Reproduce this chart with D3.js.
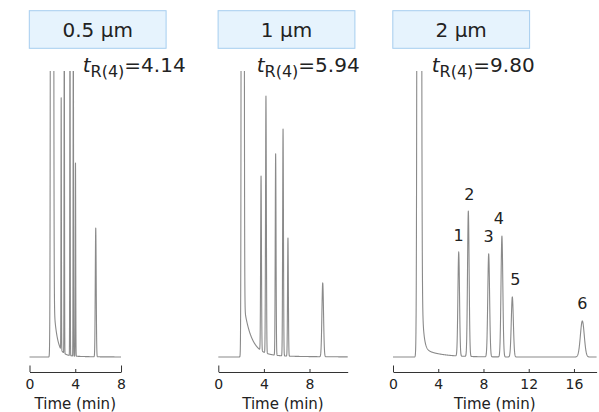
<!DOCTYPE html>
<html>
<head>
<meta charset="utf-8">
<script src="https://cdn.jsdelivr.net/npm/d3@7.9.0/dist/d3.min.js"></script>
<style>
  html, body { margin: 0; padding: 0; background: #fff; }
  svg { display: block; font-family: "DejaVu Sans", Verdana, sans-serif; }
</style>
</head>
<body>
<svg id="chart" width="599" height="412"></svg>
<script>
// Panel titles and retention time of peak 4
const panelTitles = ['0.5 µm', '1 µm', '2 µm'];
const tR4Values = ['4.14', '5.94', '9.80'];

// Time axis (min)
const timeMax = [8, 11.35, 18];
const tickValues = [[0, 4, 8], [0, 4, 8], [0, 4, 8, 12, 16]];

// Solvent / void peak (clipped) and its tail
const solventTimes = [1.97, 2.14, 2.32];
const solventHeights = [3000, 3000, 3000];
const solventWidths = [0.06, 0.056, 0.085];
const tailFast = [28, 20, 88];
const tailFastDecay = [0.3, 0.65, 0.15];
const tailSlow = [1, 1, 3.5];
const tailSlowDecay = [1.5, 3, 1.5];

// Analyte peaks 1-6 (time in min, height in % of full scale, sigma in min)
const peakNumbers = ['1', '2', '3', '4', '5', '6'];
const peakTimes = [
  [2.77, 3.04, 3.54, 3.83, 4.02, 5.79],
  [3.75, 4.18, 5.03, 5.68, 6.11, 9.16],
  [5.81, 6.66, 8.46, 9.63, 10.55, 16.74]
];
const peakHeights = [
  [88.1, 130, 140, 125, 67.5, 45],
  [61.0, 89.9, 70.4, 79.3, 41.3, 25.8],
  [36.4, 50.8, 36.0, 42.3, 21.0, 12.6]
];
const peakWidths = [
  [0.018, 0.018, 0.018, 0.018, 0.02, 0.04],
  [0.035, 0.035, 0.035, 0.035, 0.035, 0.07],
  [0.07, 0.07, 0.08, 0.08, 0.09, 0.17]
];

// layout
const panelX0 = [29.5, 218.3, 393];
const pxPerMin = [11.44, 11.4, 11.31];
const labelX = [82.7, 256.7, 431.7];
const labelDx = [0, 1, 0, -3, 3, 0];
const baseY = 357, topY = 71, axisY = 372;

const svg = d3.select('#chart');
const y = d3.scaleLinear().domain([0, 100]).range([baseY, topY]);

function signal(p, t) {
  let v = solventHeights[p] * Math.exp(-0.5 * ((t - solventTimes[p]) / solventWidths[p]) ** 2);
  if (t >= solventTimes[p]) {
    let dt = t - solventTimes[p];
    v += tailFast[p] * Math.exp(-dt / tailFastDecay[p]) + tailSlow[p] * Math.exp(-dt / tailSlowDecay[p]);
  }
  peakTimes[p].forEach((tp, i) => {
    v += peakHeights[p][i] * Math.exp(-0.5 * ((t - tp) / peakWidths[p][i]) ** 2);
  });
  return v;
}

panelTitles.forEach((title, p) => {
  const x = d3.scaleLinear()
    .domain([0, timeMax[p]])
    .range([panelX0[p], panelX0[p] + timeMax[p] * pxPerMin[p]]);

  const g = svg.append('g');

  // title box
  g.append('rect')
    .attr('x', panelX0[p] - 0.2).attr('y', 10.7)
    .attr('width', 136.8).attr('height', 37.6)
    .attr('fill', '#e6f3fd').attr('stroke', '#a6cdef').attr('stroke-width', 1);
  g.append('text')
    .attr('x', panelX0[p] + 68.2).attr('y', 36.7)
    .attr('text-anchor', 'middle')
    .attr('font-size', 20).attr('fill', '#222')
    .text(title);

  // tR(4) label
  const lab = g.append('text')
    .attr('x', labelX[p]).attr('y', 71.7)
    .attr('font-size', 20).attr('fill', '#222');
  lab.append('tspan').attr('font-style', 'italic').text('t');
  lab.append('tspan').attr('font-size', 16).attr('dy', 5.5).text('R(4)');
  lab.append('tspan').attr('dy', -5.5).text('=' + tR4Values[p]);

  // clip for off-scale peaks
  const clipId = 'clip' + p;
  svg.append('clipPath').attr('id', clipId)
    .append('rect')
    .attr('x', x(0) - 2).attr('y', topY)
    .attr('width', x(timeMax[p]) - x(0) + 4).attr('height', baseY - topY + 10);

  // chromatogram trace
  const step = d3.min(peakWidths[p]) / 5;
  const times = d3.range(0, timeMax[p], step)
    .concat(peakTimes[p], [timeMax[p]])
    .sort((a, b) => a - b);
  const pts = times.map(t => [t, signal(p, t)]);

  const line = d3.line()
    .x(d => x(d[0]))
    .y(d => y(Math.min(d[1], 110)));

  g.append('path')
    .datum(pts)
    .attr('clip-path', `url(#${clipId})`)
    .attr('d', line)
    .attr('fill', 'none')
    .attr('stroke', '#8a8a8a')
    .attr('stroke-width', 1.1)
    .attr('stroke-linejoin', 'round');

  // peak numbers on the 2 µm panel
  if (p === 2) {
    peakNumbers.forEach((n, i) => {
      g.append('text')
        .attr('x', x(peakTimes[p][i]) + labelDx[i])
        .attr('y', y(peakHeights[p][i]) - 12)
        .attr('text-anchor', 'middle')
        .attr('font-size', 16).attr('fill', '#222')
        .text(n);
    });
  }

  // time axis, ticks pointing up
  const axis = d3.axisBottom(x)
    .tickValues(tickValues[p])
    .tickSizeInner(-3)
    .tickSizeOuter(0)
    .tickPadding(7)
    .tickFormat(d3.format('d'));

  const ax = g.append('g')
    .attr('transform', `translate(0,${axisY})`)
    .call(axis);
  ax.select('.domain').attr('stroke', '#333');
  ax.selectAll('.tick line')
    .attr('stroke', '#333')
    .attr('y2', d => (d === 0 || d === timeMax[p]) ? -6.5 : -3);
  ax.selectAll('.tick text')
    .attr('font-size', 14)
    .attr('font-family', '"DejaVu Sans", Verdana, sans-serif')
    .attr('fill', '#222');

  g.append('text')
    .attr('x', (x(0) + x(timeMax[p])) / 2).attr('y', 409)
    .attr('text-anchor', 'middle')
    .attr('font-size', 15).attr('fill', '#222')
    .text('Time (min)');
});
</script>
</body>
</html>
